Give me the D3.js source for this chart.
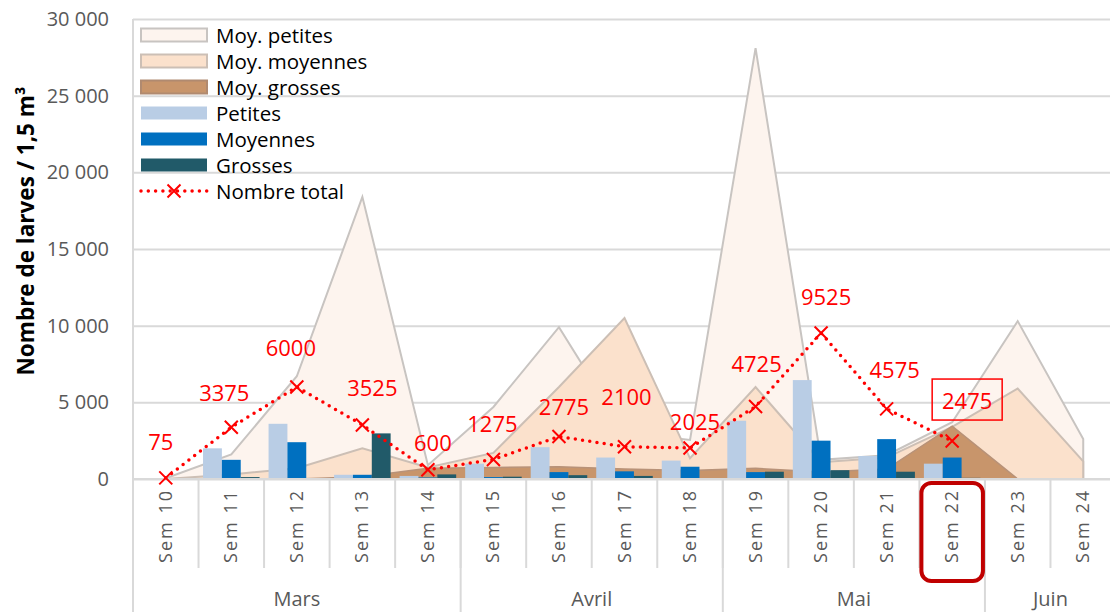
<!DOCTYPE html>
<html>
<head>
<meta charset="utf-8">
<script src="https://cdn.jsdelivr.net/npm/d3@7"></script>
<style>
  body { margin: 0; background: #fff; }
  svg { font-family: "Open Sans", sans-serif; }
</style>
</head>
<body>
<div id="chart"></div>
<script>
// data
var weeks = ["Sem 10", "Sem 11", "Sem 12", "Sem 13", "Sem 14", "Sem 15", "Sem 16", "Sem 17",
             "Sem 18", "Sem 19", "Sem 20", "Sem 21", "Sem 22", "Sem 23", "Sem 24"];
var months = ["Mars", "Avril", "Mai", "Juin"];
var monthWeeks = [5, 4, 4, 2];

var moyPetites  = [50, 1600, 6700, 18400, 900, 4700, 9900, 3050, 2550, 28100, 1250, 1550, 3700, 10300, 2600];
var moyMoyennes = [0, 300, 700, 2000, 750, 1700, 6000, 10500, 1350, 6000, 1100, 1400, 3400, 5900, 1150];
var moyGrosses  = [0, 0, 0, 150, 700, 750, 800, 650, 550, 700, 450, 650, 3450, 0, 0];

var petites  = [50, 2000, 3600, 275, 200, 1000, 2075, 1400, 1200, 3800, 6450, 1500, 1000, 0, 0];
var moyennes = [25, 1250, 2400, 275, 100, 125, 450, 500, 800, 450, 2500, 2600, 1400, 0, 0];
var grosses  = [0, 125, 0, 2975, 300, 150, 250, 200, 25, 475, 575, 475, 75, 0, 0];

var total = [75, 3375, 6000, 3525, 600, 1275, 2775, 2100, 2025, 4725, 9525, 4575, 2475];

var yTicks = [0, 5000, 10000, 15000, 20000, 25000, 30000];

// hand placed data labels (dx, dy from the marker)
var labelNudge = [[-5, -37], [-7, -35], [-6, -40], [10, -38], [5, -28], [-1, -36], [5, -30],
                  [2, -51], [5, -27], [1, -44], [5, -37], [8, -40], [15, -41]];

var svgWidth = 1110;
var svgHeight = 612;
var plotLeft = 133, plotRight = 1116, plotTop = 19, plotBottom = 479;

var svg = d3.select("#chart")
  .append("svg")
  .attr("width", svgWidth)
  .attr("height", svgHeight);

var x = d3.scaleBand().domain(weeks).range([plotLeft, plotRight]).padding(0);
var bw = x.bandwidth();
var cx = function(i) { return x(weeks[i]) + bw / 2; };

var y = d3.scaleLinear().domain([0, 30000]).range([plotBottom, plotTop]);

var fr = d3.formatLocale({ decimal: ",", thousands: " ", grouping: [3], currency: ["", " €"] });

// gridlines + y labels
var yAxis = d3.axisLeft(y)
  .tickValues(yTicks)
  .tickSize(-(plotRight - plotLeft))
  .tickPadding(24)
  .tickFormat(fr.format(","));

var gy = svg.append("g")
  .attr("transform", `translate(${plotLeft},0)`)
  .call(yAxis);
gy.select(".domain").remove();
gy.selectAll(".tick line").attr("stroke", "#D9D9D9").attr("stroke-width", 2);
gy.selectAll(".tick text")
  .attr("fill", "#595959")
  .style("font-size", "20px")
  .style("font-family", "Open Sans");

// left axis line
svg.append("line")
  .attr("x1", plotLeft).attr("x2", plotLeft)
  .attr("y1", plotTop).attr("y2", svgHeight)
  .attr("stroke", "#D9D9D9").attr("stroke-width", 2);

// areas (averages)
var areaFor = function(vals) {
  return d3.area()
    .x(function(d, i) { return cx(i); })
    .y0(y(0))
    .y1(function(d) { return y(d); })(vals);
};

svg.append("path").attr("d", areaFor(moyPetites))
  .attr("fill", "#FDF4EE").attr("stroke", "#C8C4C1").attr("stroke-width", 2);
svg.append("path").attr("d", areaFor(moyMoyennes))
  .attr("fill", "#FBE1CC").attr("stroke", "#CCBFB5").attr("stroke-width", 2);
svg.append("path").attr("d", areaFor(moyGrosses))
  .attr("fill", "#C8956B").attr("stroke", "#B89278").attr("stroke-width", 1.5);

// bars
var series = ["p", "m", "g"];
var barData = [petites, moyennes, grosses];
var barColors = ["#B9CDE5", "#0070C0", "#215A69"];
var x1 = d3.scaleBand().domain(series).range([4.5, bw - 4.5]).padding(0);

series.forEach(function(s, k) {
  svg.append("g").selectAll("rect")
    .data(barData[k])
    .enter()
    .append("rect")
    .attr("x", function(d, i) { return x(weeks[i]) + x1(s); })
    .attr("y", function(d) { return y(d); })
    .attr("width", x1.bandwidth())
    .attr("height", function(d) { return y(0) - y(d); })
    .attr("fill", barColors[k]);
});

// bottom axis line
svg.append("line")
  .attr("x1", plotLeft).attr("x2", plotRight)
  .attr("y1", plotBottom).attr("y2", plotBottom)
  .attr("stroke", "#D9D9D9").attr("stroke-width", 2);

// total line
var lineGen = d3.line()
  .x(function(d, i) { return cx(i); })
  .y(function(d) { return y(d); });

svg.append("path")
  .attr("d", lineGen(total))
  .attr("fill", "none")
  .attr("stroke", "#FF0000")
  .attr("stroke-width", 3.5)
  .attr("stroke-linecap", "round")
  .attr("stroke-dasharray", "0,7.3");

var xMark = function(g, px, py, r) {
  g.append("path")
    .attr("d", `M${px - r},${py - r}L${px + r},${py + r}M${px - r},${py + r}L${px + r},${py - r}`)
    .attr("stroke", "#FF0000")
    .attr("stroke-width", 2)
    .attr("fill", "none");
};

var markers = svg.append("g");
total.forEach(function(v, i) { xMark(markers, cx(i), y(v), 6.5); });

svg.append("g").selectAll("text")
  .data(total)
  .enter()
  .append("text")
  .attr("x", function(d, i) { return cx(i) + labelNudge[i][0]; })
  .attr("y", function(d, i) { return y(d) + labelNudge[i][1]; })
  .attr("text-anchor", "middle")
  .attr("dominant-baseline", "central")
  .attr("fill", "#FF0000")
  .style("font-size", "22px")
  .text(function(d) { return d; });

// box around the last value
var lastIdx = total.length - 1;
var lx = cx(lastIdx) + labelNudge[lastIdx][0];
var ly = y(total[lastIdx]) + labelNudge[lastIdx][1];
svg.append("rect")
  .attr("x", lx - 35).attr("y", ly - 21)
  .attr("width", 70).attr("height", 41)
  .attr("fill", "none")
  .attr("stroke", "#FF0000")
  .attr("stroke-width", 1.5);

// x axis: week ticks + labels
svg.append("g").selectAll("line")
  .data(weeks.slice(1))
  .enter()
  .append("line")
  .attr("x1", function(d) { return x(d); })
  .attr("x2", function(d) { return x(d); })
  .attr("y1", plotBottom)
  .attr("y2", 568)
  .attr("stroke", "#D9D9D9")
  .attr("stroke-width", 2);

svg.append("g").selectAll("text")
  .data(weeks)
  .enter()
  .append("text")
  .attr("transform", function(d) { return `translate(${x(d) + bw / 2 + 6},${plotBottom + 10}) rotate(-90)`; })
  .attr("text-anchor", "end")
  .attr("fill", "#595959")
  .style("font-size", "18px")
  .style("letter-spacing", "2px")
  .text(function(d) { return d; });

// month groups
var start = 0;
months.forEach(function(m, j) {
  var a = x(weeks[start]);
  var endIdx = start + monthWeeks[j] - 1;
  var b = x(weeks[endIdx]) + bw;
  if (j > 0) {
    svg.append("line")
      .attr("x1", a).attr("x2", a)
      .attr("y1", plotBottom).attr("y2", svgHeight)
      .attr("stroke", "#D9D9D9").attr("stroke-width", 2);
  }
  svg.append("text")
    .attr("x", (a + b) / 2)
    .attr("y", 606)
    .attr("text-anchor", "middle")
    .attr("fill", "#595959")
    .style("font-size", "20px")
    .text(m);
  start = endIdx + 1;
});

// highlighted week
var hx = x("Sem 22");
svg.append("rect")
  .attr("x", hx + 2).attr("y", 483)
  .attr("width", bw - 4).attr("height", 98)
  .attr("rx", 10)
  .attr("fill", "none")
  .attr("stroke", "#C00000")
  .attr("stroke-width", 4);

// y title
svg.append("text")
  .attr("transform", `translate(25, 231) rotate(-90)`)
  .attr("text-anchor", "middle")
  .attr("dominant-baseline", "central")
  .style("font-size", "22.5px")
  .style("font-weight", "bold")
  .attr("fill", "#000")
  .text("Nombre de larves / 1,5 m³");

// legend
var legendItems = [
  { name: "Moy. petites", fill: "#FDF4EE", stroke: "#C8C4C1", type: "rect" },
  { name: "Moy. moyennes", fill: "#FBE1CC", stroke: "#CCBFB5", type: "rect" },
  { name: "Moy. grosses", fill: "#C8956B", stroke: "#B08A70", type: "rect" },
  { name: "Petites", fill: "#B9CDE5", stroke: "none", type: "rect" },
  { name: "Moyennes", fill: "#0070C0", stroke: "none", type: "rect" },
  { name: "Grosses", fill: "#215A69", stroke: "none", type: "rect" },
  { name: "Nombre total", type: "line" }
];

var legend = svg.append("g").attr("transform", "translate(140, 35)");
legendItems.forEach(function(it, i) {
  var g = legend.append("g").attr("transform", `translate(0, ${i * 26})`);
  if (it.type === "rect") {
    g.append("rect")
      .attr("x", 1).attr("y", -6.5)
      .attr("width", 66).attr("height", 13)
      .attr("fill", it.fill)
      .attr("stroke", it.stroke)
      .attr("stroke-width", it.stroke === "none" ? 0 : 2);
  } else {
    g.append("line")
      .attr("x1", 1).attr("x2", 67).attr("y1", 0).attr("y2", 0)
      .attr("stroke", "#FF0000").attr("stroke-width", 3.5)
      .attr("stroke-linecap", "round").attr("stroke-dasharray", "0,7.3");
    xMark(g, 34, 0, 6.5);
  }
  g.append("text")
    .attr("x", 76).attr("y", 0)
    .attr("dominant-baseline", "central")
    .style("font-size", "20.5px")
    .attr("fill", "#000")
    .text(it.name);
});
</script>
</body>
</html>
